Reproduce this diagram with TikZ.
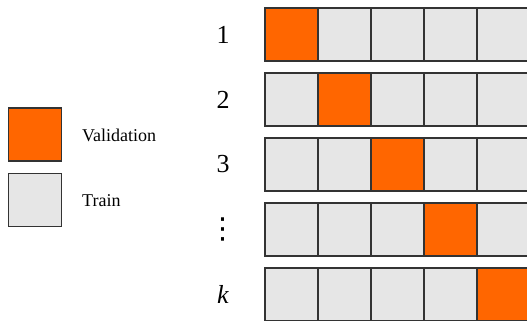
\documentclass[tikz,border=0pt]{standalone}
\usepackage{fontspec}
\setmainfont{Liberation Serif}
\newfontfamily\dotsfont{DejaVu Sans}
\definecolor{valorange}{HTML}{FF6600}
\definecolor{traingray}{HTML}{E6E6E6}
\definecolor{cellborder}{HTML}{333333}
\newcommand\foldvdots{{\dotsfont\fontsize{29}{32}\selectfont ⋮}}

\begin{document}
\begin{tikzpicture}[x=1pt,y=-1pt,
	cell/.style={draw=cellborder,line width=1.3pt,minimum size=53pt,inner sep=0pt,fill=traingray},
	valcell/.style={cell,fill=valorange},
	foldlabel/.style={font=\fontsize{26}{30}\selectfont},
	legendtext/.style={font=\fontsize{18}{22}\selectfont,anchor=west,inner sep=0pt}]
	\clip (0,0) rectangle (527,321);
	\node[valcell] (keyval) at (35,134.5) {};
	\node[cell] (keytrain) at (35,200) {};
	\node[legendtext] (valtext) at (82,135) {Validation};
	\node[legendtext] (traintext) at (82,201) {Train};
	\foreach \r/\lab in {1/1,2/2,3/3,4/\foldvdots,5/\textit{k}} {
		\node[foldlabel] (fold\r) at (223,{34.5+65*(\r-1)}) {\lab};
		\foreach \c in {1,...,5} {
			\ifnum\c=\r
				\node[valcell] (cell\r\c) at ({291.5+53*(\c-1)},{34.5+65*(\r-1)}) {};
			\else
				\node[cell] (cell\r\c) at ({291.5+53*(\c-1)},{34.5+65*(\r-1)}) {};
			\fi
		}
	}
\end{tikzpicture}
\end{document}
